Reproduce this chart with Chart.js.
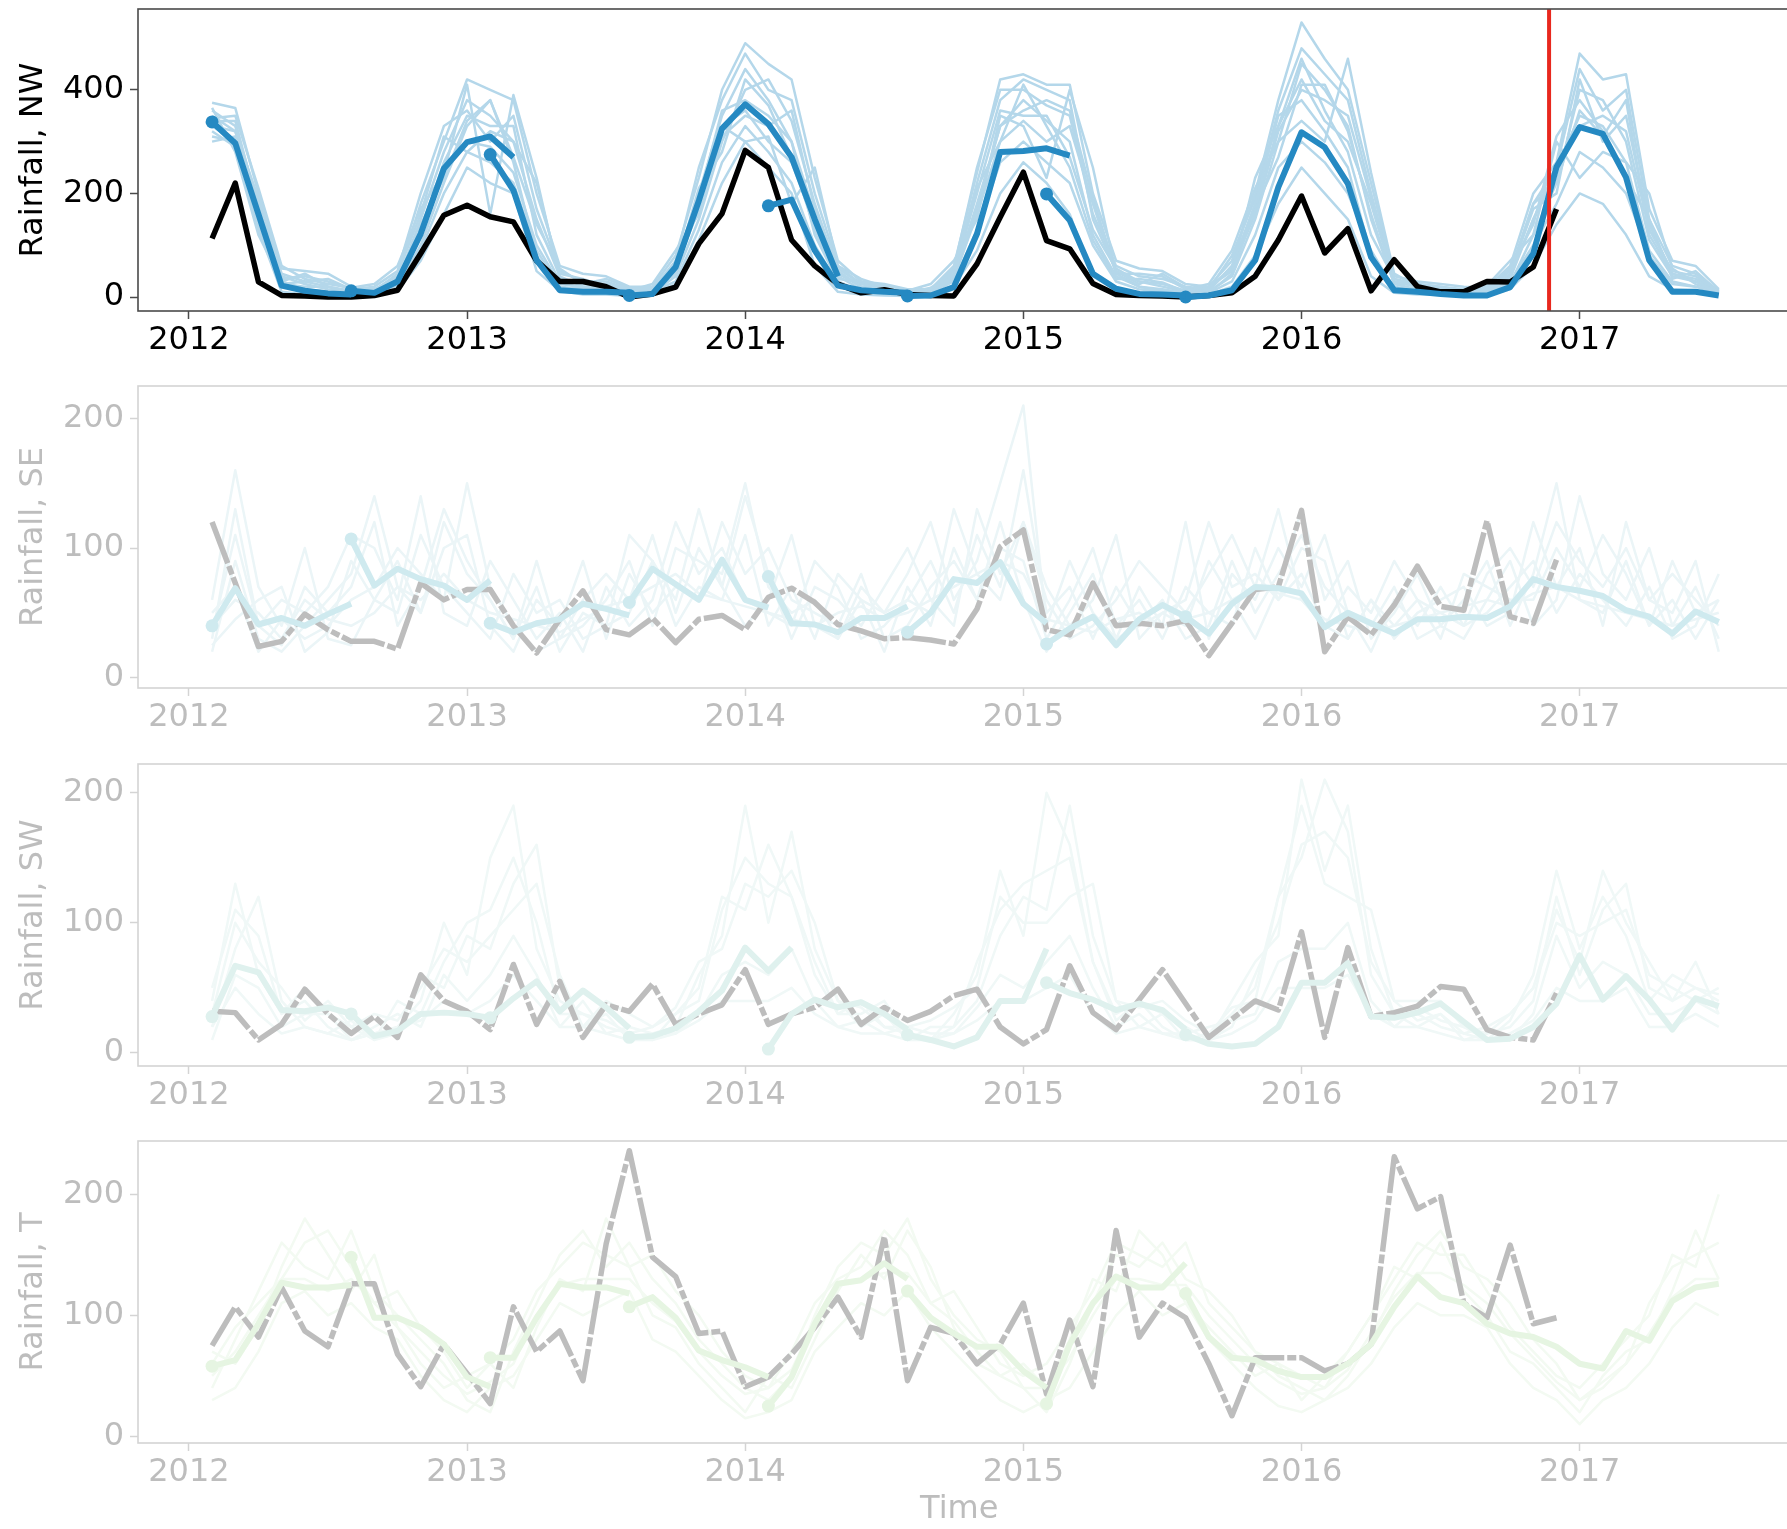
<!DOCTYPE html>
<html>
<head>
<meta charset="utf-8">
<title>Rainfall forecasts</title>
<script src="https://cdn.jsdelivr.net/npm/chart.js@4.4.1/dist/chart.umd.min.js"></script>
<style>
  html, body { margin: 0; padding: 0; background: #fff; }
  #wrap { position: relative; width: 1787px; height: 1529px; overflow: hidden; }
  .panel { position: absolute; left: 0; width: 1787px; }
</style>
</head>
<body>
<div id="wrap">
  <div class="panel" style="top:0px"><canvas id="nw" width="1787" height="377"></canvas></div>
  <div class="panel" style="top:377px"><canvas id="se" width="1787" height="377"></canvas></div>
  <div class="panel" style="top:755px"><canvas id="sw" width="1787" height="377"></canvas></div>
  <div class="panel" style="top:1132px"><canvas id="t" width="1787" height="397"></canvas></div>
</div>
<script>
// Months (end of month), Jan 2012 .. Jun 2017
const months = [
  '2012-01','2012-02','2012-03','2012-04','2012-05','2012-06','2012-07','2012-08','2012-09','2012-10','2012-11','2012-12',
  '2013-01','2013-02','2013-03','2013-04','2013-05','2013-06','2013-07','2013-08','2013-09','2013-10','2013-11','2013-12',
  '2014-01','2014-02','2014-03','2014-04','2014-05','2014-06','2014-07','2014-08','2014-09','2014-10','2014-11','2014-12',
  '2015-01','2015-02','2015-03','2015-04','2015-05','2015-06','2015-07','2015-08','2015-09','2015-10','2015-11','2015-12',
  '2016-01','2016-02','2016-03','2016-04','2016-05','2016-06','2016-07','2016-08','2016-09','2016-10','2016-11','2016-12',
  '2017-01','2017-02','2017-03','2017-04','2017-05','2017-06'
];
const yearTicks = [2012, 2013, 2014, 2015, 2016, 2017];
const nwTicks = [0, 200, 400];
const otherTicks = [0, 100, 200];
const forecastStart = 2016.89; // red line

// forecast initialisation months (index into months)
const initStarts = [0, 6, 12, 18, 24, 30, 36, 42];

// ---------- NW ----------
const nwObs = [
  113,220,29,3,2,0,0,3,13,84,158,177,
  155,145,70,30,30,20,0,6,19,103,161,283,
  250,110,60,25,8,14,5,3,2,64,154,241,
  109,93,26,5,3,2,0,3,8,40,110,195,
  85,132,12,72,20,10,10,30,29,58,170
];
const nwMean = [
  [338,297,160,22,12,7,5],
  [12,8,30,122,248,299,310,270],
  [275,206,71,13,10,10,8],
  [3,6,58,186,325,372,334,270,150,40],
  [176,188,90,22,13,10,8],
  [2,3,19,122,280,282,287,273],
  [199,148,45,16,6,5,3],
  [0,3,13,71,212,318,289,219,77,13,10,6, 3,3,19,84,251,328,315,231,71,10,10,3]
];
const nwMembers = [
  [360,330,180,40,25,15,10,8,30,150,280,380, 350,300,150,40,20,15,10,12,60,200,350,440, 380,300,120,30,12,8,5,10,40,180,330,380, 340,300,120,40,20,15,8,10,40,150,300,450, 400,330,150,25,15,10,8,6,25,120,220,400, 380,300,110,40,30,8],
  [300,310,150,20,10,8,5,5,20,100,220,330, 380,260,80,20,10,8,5,8,40,150,300,400, 420,340,180,50,20,12,8,12,50,220,380,420, 400,380,150,50,30,20,10,12,60,180,350,380, 320,250,80,20,12,8,5,8,40,150,250,350, 330,260,90,30,20,10],
  [375,365,200,55,50,45,20,15,40,180,300,420, 400,380,200,60,45,40,20,20,80,230,400,490, 450,420,230,70,30,25,15,15,60,240,420,430, 410,410,200,70,55,50,25,20,70,200,380,530, 460,400,220,40,30,25,20,18,60,200,260,470, 420,430,170,70,60,15],
  [320,290,130,10,5,5,2,2,12,70,160,250, 220,200,50,12,5,5,2,3,25,110,220,300, 250,200,60,10,5,3,2,5,20,90,200,260, 220,160,40,15,8,6,3,5,20,80,180,250, 200,150,40,8,5,5,3,3,15,60,140,200, 180,120,40,15,12,5],
  [340,340,170,30,15,10,8,10,35,130,260,350, 330,330,120,30,15,10,8,10,50,180,330,360, 300,260,140,40,15,10,6,8,35,160,300,340, 300,330,180,45,20,12,6,8,45,170,330,420, 340,300,180,30,20,15,8,10,35,150,240,330, 350,320,130,50,40,10],
  [330,300,160,35,40,30,15,20,50,200,330,360, 300,350,170,50,30,30,15,15,70,250,380,470, 400,380,200,60,25,15,10,15,55,250,400,400, 370,350,160,60,40,35,20,15,80,190,360,480, 430,380,200,35,25,20,15,15,50,180,250,440, 360,400,150,60,45,12],
  [350,320,190,45,30,20,12,12,25,120,250,300, 290,240,100,25,20,20,10,15,45,190,360,380, 350,300,160,45,20,15,10,12,45,200,360,350, 350,270,130,55,30,25,12,18,55,160,320,400, 380,350,190,30,20,12,10,12,45,170,200,420, 300,350,140,45,35,12],
  [310,300,140,25,20,20,10,8,25,90,200,280, 260,220,90,20,15,15,8,10,30,130,260,330, 280,220,100,25,10,8,4,8,30,130,260,300, 260,220,100,30,15,10,5,8,30,120,250,300, 260,200,90,15,10,8,5,6,30,100,180,280, 250,200,80,25,20,6],
  [345,350,210,60,35,25,18,25,60,170,240,410, 160,390,230,35,25,25,12,25,90,160,330,300, 310,180,250,60,35,20,12,25,70,150,350,330, 230,400,250,45,45,40,15,25,90,210,300,340, 300,460,240,45,20,18,12,22,70,120,300,230, 280,260,200,55,25,10],
  [365,280,120,30,45,20,8,12,45,160,310,280, 320,300,220,45,35,20,12,18,55,210,280,420, 370,270,130,35,30,18,8,18,40,210,300,410, 330,250,110,35,35,28,10,20,50,230,330,460, 360,280,120,35,22,15,8,14,55,140,310,380, 320,230,150,35,50,10],
  [330,320,170,25,30,35,15,15,30,140,230,340, 380,270,140,55,25,35,18,12,55,170,310,350, 330,360,170,55,25,22,12,10,35,170,330,360, 380,360,190,50,25,45,18,12,60,170,270,410, 410,320,160,25,25,20,12,10,40,180,220,360, 310,380,120,45,30,12]
];

// ---------- SE ----------
const seObs = [
  120,73,24,28,49,37,28,28,22,73,60,68,
  68,40,19,45,67,37,33,46,27,45,48,37,
  62,69,58,41,36,30,31,29,26,53,101,114,
  37,33,73,40,42,40,44,17,42,68,70,129,
  20,47,33,56,86,55,52,121,47,42,91
];
const seMean = [
  [40,69,41,46,40,49,57],
  [107,71,84,76,71,60,75],
  [42,35,42,45,57,53,48],
  [58,84,72,60,91,60,54],
  [78,42,41,35,46,46,55],
  [35,50,76,73,89,57,42],
  [26,38,47,25,45,56,47],
  [47,34,57,70,69,65,39,50,42,34,45,45, 47,46,55,76,70,67,63,52,47,34,51,43]
];
const seMembers = [
  [60,160,70,40,100,30,25,60,90,50,120,80, 60,30,70,20,50,40,110,90,60,130,70,40, 60,110,40,30,60,50,80,120,60,90,150,210, 40,90,50,30,70,40,120,30,80,60,100,70, 110,50,40,70,30,40,60,90,40,80,150,60, 50,90,40,60,30,60],
  [30,130,40,60,50,70,110,100,60,140,50,40, 90,60,30,50,20,70,40,60,120,80,100,60, 50,40,90,70,30,40,60,50,130,80,60,120, 70,40,60,110,30,50,40,90,60,30,70,130, 60,90,30,50,80,40,30,60,90,40,60,140, 80,60,100,40,70,30],
  [20,90,30,20,40,60,80,140,70,50,100,110, 40,20,60,40,90,30,80,50,70,60,120,80, 100,60,50,40,80,30,40,70,90,60,100,90, 30,60,100,40,60,30,70,50,40,100,60,80, 40,30,60,30,50,60,70,40,50,120,70,100, 40,120,60,50,90,20],
  [50,70,20,45,30,40,60,70,100,80,60,150, 70,40,20,30,60,80,60,110,50,100,70,140, 80,30,70,60,40,70,100,60,40,130,80,120, 60,30,40,60,90,70,50,80,110,70,130,60, 40,70,50,90,60,30,80,70,60,60,100,70, 110,80,40,90,50,60],
  [40,60,50,30,60,45,40,50,70,60,80,60, 50,45,40,35,45,55,60,70,80,65,60,55, 50,45,40,50,55,45,50,60,70,80,90,80, 45,40,35,45,50,40,45,50,60,70,65,60, 45,40,35,40,45,50,55,60,55,65,70,60, 55,50,45,40,45,50],
  [25,45,60,70,20,35,90,60,50,110,70,50, 30,80,50,60,30,40,50,90,40,70,60,110, 40,70,30,80,60,20,70,40,100,60,120,60, 20,50,80,30,40,60,30,40,90,50,80,110, 70,50,20,60,40,70,40,50,70,90,50,80, 60,40,70,30,40,80],
  [35,110,40,25,70,50,70,120,40,70,130,90, 60,30,90,30,40,60,90,40,100,90,80,150, 70,50,60,30,70,50,60,90,50,110,70,160, 50,70,30,70,40,50,60,120,70,80,60,100, 90,30,60,40,60,50,40,80,100,70,120,90, 70,100,60,80,60,40]
];

// ---------- SW ----------
const swObs = [
  32,31,10,22,49,30,15,28,12,60,40,32,
  18,68,22,55,12,37,32,53,22,30,37,64,
  22,30,35,49,22,35,25,32,44,49,20,7,
  18,67,31,18,41,64,38,12,26,40,33,93,
  12,81,28,31,36,51,49,18,12,10,46
];
const swMean = [
  [28,67,62,33,32,35,30],
  [30,13,17,30,31,30,27],
  [27,42,55,32,48,35,19],
  [12,13,19,32,48,81,63,81],
  [3,30,41,35,39,30,18],
  [14,10,5,12,40,40,80],
  [54,46,41,33,38,33,18],
  [14,7,5,7,20,54,54,69,28,27,31,38, 24,10,11,20,38,75,41,59,41,18,42,36]
];
const swMembers = [
  [40,130,60,30,40,20,10,15,20,40,100,60, 150,190,80,40,30,20,15,10,30,50,120,110, 160,120,60,30,40,20,15,10,30,60,140,90, 200,160,70,30,40,20,10,15,30,50,120,150, 210,170,60,30,30,20,15,10,25,60,140,80, 120,90,40,60,50,40],
  [20,80,120,40,20,15,25,10,15,60,50,90, 80,130,160,50,20,30,10,15,20,60,90,190, 100,170,80,40,20,30,10,20,20,40,90,120, 110,190,90,40,20,30,20,10,40,70,90,210, 140,190,80,30,20,30,10,15,20,40,120,60, 110,130,50,40,70,30],
  [10,60,50,20,30,30,10,20,30,20,60,40, 60,90,60,20,40,15,20,15,15,30,60,70, 60,80,40,20,25,15,20,15,15,35,60,50, 70,90,50,20,30,15,15,20,25,30,70,80, 80,100,40,20,35,25,20,10,10,30,90,50, 70,60,30,30,40,30],
  [30,100,70,50,25,40,20,10,40,30,70,100, 110,150,100,30,30,25,15,20,30,40,110,150, 130,120,70,30,30,40,15,10,20,70,110,130, 140,150,70,25,40,30,10,10,20,60,100,160, 170,150,70,40,25,30,15,20,30,50,100,90, 100,110,60,50,40,50],
  [20,50,30,15,20,15,10,15,20,25,40,30, 40,60,40,20,20,15,10,10,15,25,40,40, 40,50,30,20,15,15,10,10,15,25,40,40, 50,60,30,15,20,15,10,10,15,25,50,50, 50,60,30,20,20,15,10,10,15,25,50,40, 40,50,20,20,30,20],
  [50,110,90,30,50,30,20,30,25,50,80,70, 90,110,130,60,20,40,30,20,35,70,80,130, 120,140,100,40,35,20,20,25,35,50,120,100, 100,120,130,40,35,40,25,15,35,40,120,190, 130,120,110,40,40,40,20,15,30,50,110,70, 140,100,70,40,50,45]
];

// ---------- T ----------
const tObs = [
  75,107,82,123,87,74,126,126,68,41,76,52,
  27,107,70,87,46,159,236,148,132,85,87,41,
  49,68,90,115,82,165,46,90,85,60,76,110,
  35,96,41,170,82,110,98,60,17,65,65,65,
  54,60,76,231,188,198,110,98,158,93,98
];
const tMean = [
  [58,63,93,127,123,123,125],
  [148,98,98,90,76,49,41],
  [65,65,98,126,123,123,118],
  [107,115,98,71,63,57,49],
  [25,49,93,126,129,143,130],
  [120,98,85,74,74,54,40],
  [27,76,110,132,123,123,143],
  [118,82,65,63,54,49,49,60,76,107,132,115, 110,93,85,82,74,60,56,87,79,112,123,126]
];
const tMembers = [
  [40,80,120,160,140,130,170,120,100,80,60,30, 20,70,110,150,170,140,160,130,110,80,60,40, 30,50,100,140,160,150,180,130,100,80,70,40, 20,60,110,150,140,160,130,120,100,70,50,40, 30,50,80,120,150,170,140,130,110,80,60,30, 40,60,110,140,150,160],
  [70,60,90,140,180,150,120,150,90,60,40,50, 60,40,90,130,120,180,140,100,90,60,40,20, 50,40,80,120,150,130,170,140,90,60,50,60, 40,80,130,120,170,150,110,90,70,50,60,30, 50,70,100,140,130,160,120,100,70,60,40,20, 50,70,80,120,170,130],
  [30,40,70,110,120,100,110,90,80,50,30,20, 40,50,80,110,100,110,120,80,70,50,30,15, 20,30,70,90,110,100,120,90,70,50,30,20, 30,40,70,100,120,100,110,80,60,40,25,20, 30,40,60,90,110,100,100,90,60,40,30,10, 30,40,60,90,110,100],
  [60,90,110,130,160,170,140,110,120,90,70,40, 60,80,120,140,160,150,140,150,120,100,70,50, 40,70,110,130,140,170,150,110,120,90,60,50, 60,90,120,160,150,140,160,110,90,70,60,50, 40,70,100,130,160,150,150,120,90,70,50,40, 60,80,100,150,140,200],
  [50,70,100,130,130,120,130,110,90,70,50,35, 45,60,100,125,130,130,130,110,95,70,50,35, 40,55,95,125,130,135,135,110,95,70,50,40, 40,65,100,130,130,125,125,100,80,60,45,35, 40,55,85,115,135,135,125,110,85,65,45,30, 45,60,85,115,130,130]
];

// month label -> decimal year at month end
const monthX = months.map(function (m) {
  const parts = m.split('-');
  return Number(parts[0]) + Number(parts[1]) / 12;
});

function toPoints(values, start) {
  return values.map((v, j) => ({ x: monthX[start + j], y: v }));
}

// Frame round the plot area (right edge runs off the picture)
const framePlugin = {
  id: 'frame',
  afterDatasetsDraw(chart, args, opts) {
    const a = chart.chartArea;
    const ctx = chart.ctx;
    ctx.save();
    ctx.strokeStyle = opts.color;
    ctx.lineWidth = 1.6;
    ctx.strokeRect(a.left, a.top, a.right - a.left + 20, a.bottom - a.top);
    ctx.restore();
  }
};

const FONT = 'DejaVu Sans';

function makePanel(id, p) {
  const datasets = [];

  // ensemble means, one segment per forecast start, with a dot at the start
  p.mean.forEach((seg, k) => {
    datasets.push({
      data: toPoints(seg, initStarts[k]),
      borderColor: p.meanColor,
      backgroundColor: p.meanColor,
      borderWidth: 6,
      borderJoinStyle: 'round',
      pointRadius: ctx => ctx.dataIndex === 0 ? 6.5 : 0,
      pointBorderWidth: 0,
      order: 1
    });
  });

  // observations
  datasets.push({
    data: toPoints(p.obs, 0),
    borderColor: p.obsColor,
    borderWidth: p.obsWidth,
    borderJoinStyle: 'round',
    borderDash: p.obsDash || [],
    pointRadius: 0,
    order: 2
  });

  // ensemble members
  p.members.forEach(m => {
    datasets.push({
      data: toPoints(m, 0),
      borderColor: p.memberColor,
      borderWidth: 2.5,
      borderJoinStyle: 'round',
      pointRadius: 0,
      order: 3
    });
  });

  if (p.redLine) {
    datasets.push({
      data: [{ x: forecastStart, y: -1000 }, { x: forecastStart, y: 2000 }],
      borderColor: '#e8281e',
      borderWidth: 4,
      pointRadius: 0,
      order: 0
    });
  }

  return new Chart(document.getElementById(id), {
    type: 'line',
    data: { datasets },
    plugins: [framePlugin],
    options: {
      responsive: false,
      animation: false,
      events: [],
      layout: { padding: { top: 9, left: 0, right: 0, bottom: 0 } },
      plugins: {
        legend: { display: false },
        tooltip: { enabled: false },
        frame: { color: p.frameColor }
      },
      scales: {
        x: {
          type: 'linear',
          min: 2011.817,
          max: 2017.722,
          afterBuildTicks: s => { s.ticks = yearTicks.map(v => ({ value: v })); },
          afterFit: s => { s.height = p.xHeight; s.paddingLeft = 0; s.paddingRight = 0; },
          border: { display: false },
          grid: { drawOnChartArea: false, drawTicks: true, tickLength: 8, tickColor: p.frameColor, tickWidth: 1.5 },
          ticks: {
            autoSkip: false, maxRotation: 0, padding: 2,
            color: p.textColor,
            font: { family: FONT, size: 32 },
            callback: v => String(v)
          },
          title: {
            display: !!p.xTitle,
            text: p.xTitle || '',
            color: p.textColor,
            font: { family: FONT, size: 32 },
            padding: { top: 0, bottom: 0 }
          }
        },
        y: {
          min: p.yMin,
          max: p.yMax,
          afterBuildTicks: s => { s.ticks = p.yTicks.map(v => ({ value: v })); },
          afterFit: s => { s.width = 138; s.paddingTop = 0; s.paddingBottom = 0; },
          border: { display: false },
          grid: { drawOnChartArea: false, drawTicks: true, tickLength: 8, tickColor: p.frameColor, tickWidth: 1.5 },
          ticks: {
            padding: 6,
            color: p.textColor,
            font: { family: FONT, size: 32 }
          },
          title: {
            display: true,
            text: p.yTitle,
            color: p.textColor,
            font: { family: FONT, size: 32 },
            padding: { top: 14, bottom: 0 }
          }
        }
      }
    }
  });
}

const grey = '#bdbdbd';
const dashDot = [44, 3, 9, 3];

makePanel('nw', {
  obs: nwObs, mean: nwMean, members: nwMembers,
  obsColor: '#000000', obsWidth: 5.5, meanColor: '#2589c2', memberColor: '#b4d7ea',
  textColor: '#000000', frameColor: '#4a4a4a',
  yMin: -27, yMax: 556, yTicks: nwTicks, yTitle: 'Rainfall, NW',
  xHeight: 66, redLine: true
});
makePanel('se', {
  obs: seObs, obsWidth: 5.5, mean: seMean, members: seMembers,
  obsColor: grey, meanColor: '#cfeaef', memberColor: '#ebf5f7',
  textColor: grey, frameColor: '#d4d4d4', obsDash: dashDot,
  yMin: -8, yMax: 225, yTicks: otherTicks, yTitle: 'Rainfall, SE',
  xHeight: 66
});
makePanel('sw', {
  obs: swObs, obsWidth: 5.5, mean: swMean, members: swMembers,
  obsColor: grey, meanColor: '#dff1ee', memberColor: '#f0f8f7',
  textColor: grey, frameColor: '#d4d4d4', obsDash: dashDot,
  yMin: -10, yMax: 222, yTicks: otherTicks, yTitle: 'Rainfall, SW',
  xHeight: 66
});
makePanel('t', {
  obs: tObs, obsWidth: 5.5, mean: tMean, members: tMembers,
  obsColor: grey, meanColor: '#e6f5e2', memberColor: '#f3faf2',
  textColor: grey, frameColor: '#d4d4d4', obsDash: dashDot,
  yMin: -5.5, yMax: 244, yTicks: otherTicks, yTitle: 'Rainfall, T',
  xHeight: 86, xTitle: 'Time'
});
</script>
</body>
</html>
